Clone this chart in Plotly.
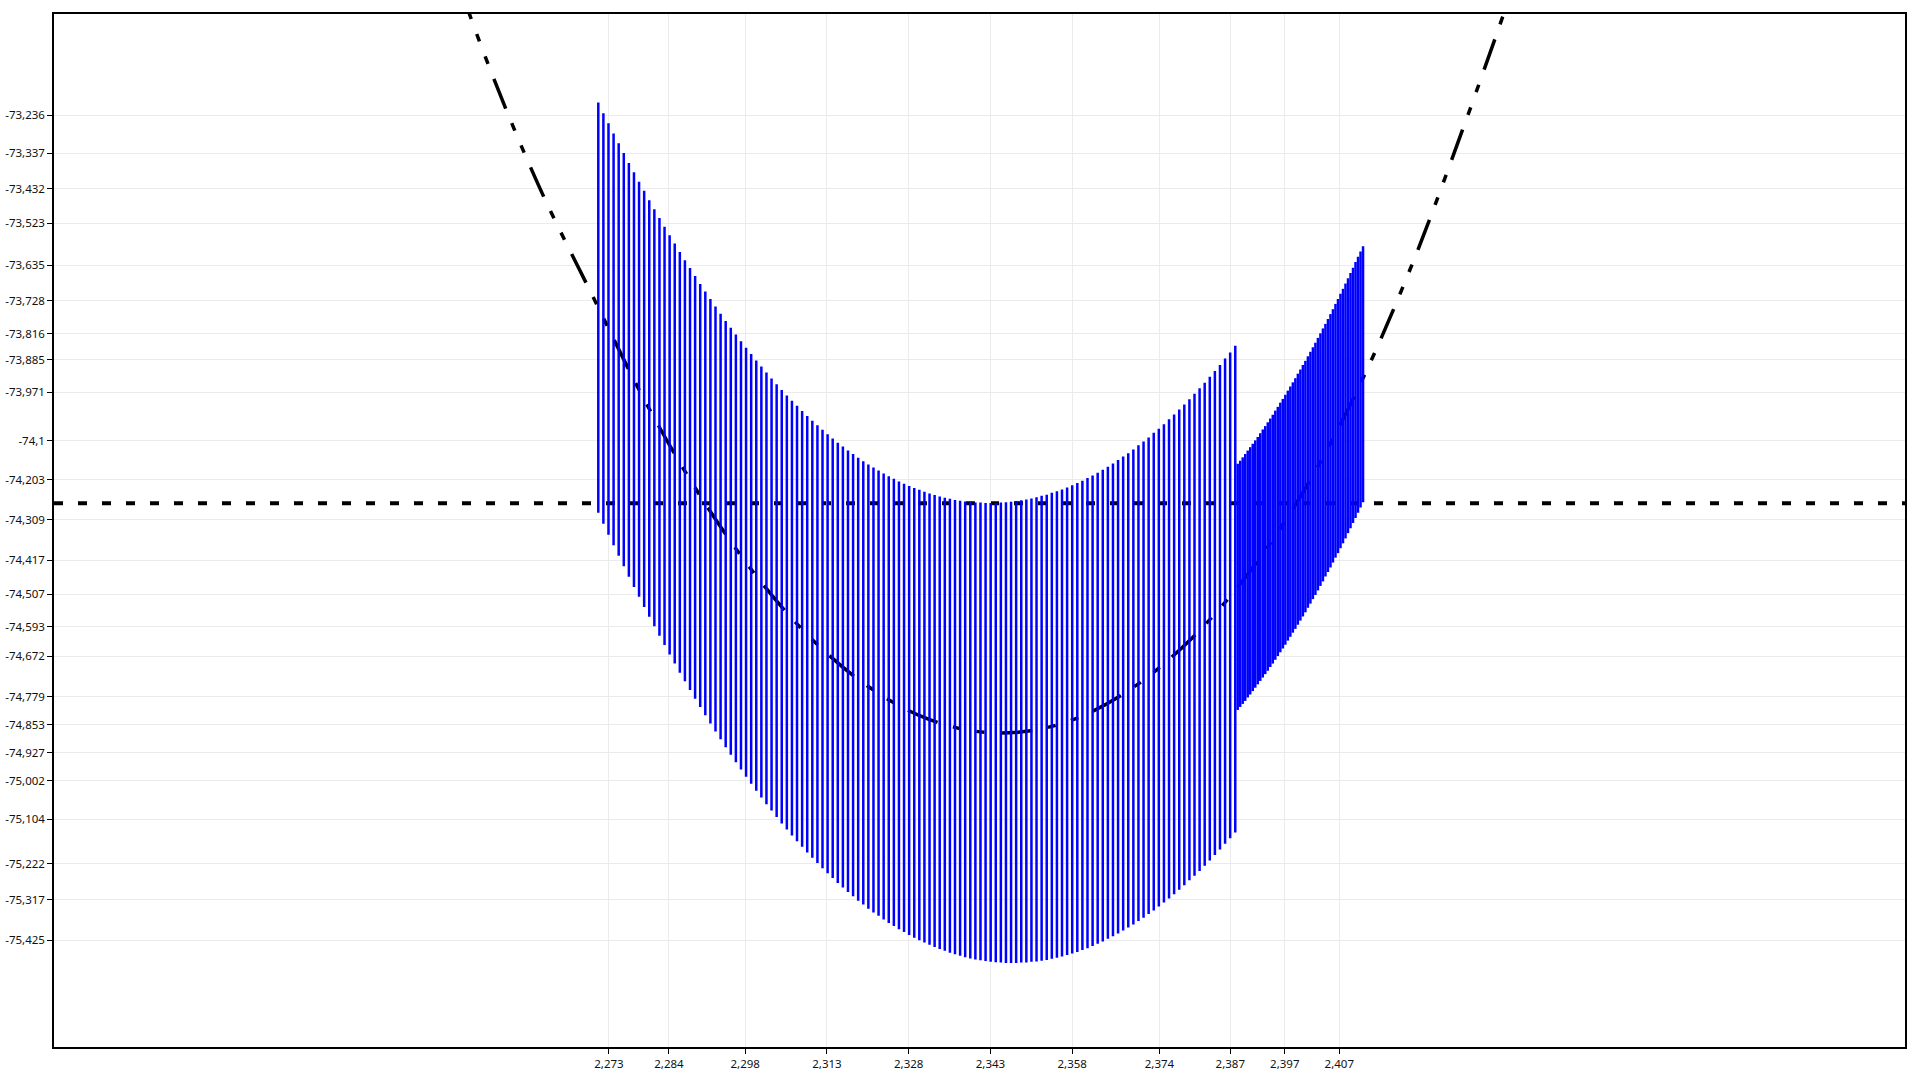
"""Range bars around a fitted curve, with a dotted reference level.

Two blocks of vertical blue bars (coarse step, then a finer step) sit on top
of a dash-dot black fitted curve; a dotted black horizontal line marks the
reference level. Tick labels use a comma as decimal separator.
"""

import plotly.graph_objects as go

# coarse block of bars
G1_X = [
    2.271040, 2.271975, 2.272910, 2.273845, 2.274780, 2.275715, 2.276650, 2.277585, 2.278520, 2.279455,
    2.280390, 2.281325, 2.282260, 2.283195, 2.284130, 2.285065, 2.286000, 2.286935, 2.287870, 2.288805,
    2.289740, 2.290675, 2.291610, 2.292545, 2.293480, 2.294415, 2.295350, 2.296285, 2.297220, 2.298155,
    2.299090, 2.300025, 2.300960, 2.301895, 2.302830, 2.303765, 2.304700, 2.305635, 2.306570, 2.307505,
    2.308440, 2.309375, 2.310310, 2.311245, 2.312180, 2.313115, 2.314050, 2.314985, 2.315920, 2.316855,
    2.317790, 2.318725, 2.319660, 2.320595, 2.321530, 2.322465, 2.323400, 2.324335, 2.325270, 2.326205,
    2.327140, 2.328075, 2.329010, 2.329945, 2.330880, 2.331815, 2.332750, 2.333685, 2.334620, 2.335555,
    2.336490, 2.337425, 2.338360, 2.339295, 2.340230, 2.341165, 2.342100, 2.343035, 2.343970, 2.344905,
    2.345840, 2.346775, 2.347710, 2.348645, 2.349580, 2.350515, 2.351450, 2.352385, 2.353320, 2.354255,
    2.355190, 2.356125, 2.357060, 2.357995, 2.358930, 2.359865, 2.360800, 2.361735, 2.362670, 2.363605,
    2.364540, 2.365475, 2.366410, 2.367345, 2.368280, 2.369215, 2.370150, 2.371085, 2.372020, 2.372955,
    2.373890, 2.374825, 2.375760, 2.376695, 2.377630, 2.378565, 2.379500, 2.380435, 2.381370, 2.382305,
    2.383240, 2.384175, 2.385110, 2.386045, 2.386980, 2.387915,
]
G1_TOP = [
    -73.203, -73.231, -73.258, -73.285, -73.311, -73.337, -73.363, -73.388, -73.413, -73.437,
    -73.462, -73.486, -73.509, -73.532, -73.555, -73.577, -73.599, -73.621, -73.642, -73.663,
    -73.684, -73.704, -73.724, -73.744, -73.763, -73.782, -73.800, -73.818, -73.836, -73.853,
    -73.870, -73.887, -73.903, -73.919, -73.935, -73.950, -73.965, -73.980, -73.994, -74.007,
    -74.021, -74.034, -74.047, -74.059, -74.071, -74.083, -74.094, -74.105, -74.115, -74.126,
    -74.135, -74.145, -74.154, -74.163, -74.171, -74.179, -74.187, -74.194, -74.201, -74.208,
    -74.214, -74.220, -74.225, -74.230, -74.235, -74.240, -74.244, -74.248, -74.251, -74.254,
    -74.257, -74.259, -74.261, -74.262, -74.264, -74.264, -74.265, -74.265, -74.265, -74.264,
    -74.263, -74.262, -74.260, -74.258, -74.256, -74.253, -74.250, -74.246, -74.243, -74.238,
    -74.234, -74.229, -74.224, -74.218, -74.212, -74.206, -74.199, -74.192, -74.185, -74.177,
    -74.169, -74.160, -74.151, -74.142, -74.133, -74.123, -74.112, -74.102, -74.091, -74.079,
    -74.068, -74.056, -74.043, -74.030, -74.017, -74.004, -73.990, -73.975, -73.961, -73.946,
    -73.930, -73.915, -73.899, -73.882, -73.866, -73.848,
]
G1_BOTTOM = [
    -74.291, -74.320, -74.349, -74.377, -74.405, -74.433, -74.461, -74.488, -74.514, -74.541,
    -74.567, -74.592, -74.617, -74.642, -74.667, -74.691, -74.715, -74.738, -74.761, -74.784,
    -74.806, -74.828, -74.850, -74.871, -74.892, -74.913, -74.933, -74.953, -74.972, -74.991,
    -75.010, -75.028, -75.046, -75.064, -75.081, -75.098, -75.115, -75.131, -75.147, -75.162,
    -75.177, -75.192, -75.206, -75.220, -75.234, -75.247, -75.260, -75.273, -75.285, -75.297,
    -75.308, -75.320, -75.330, -75.341, -75.351, -75.360, -75.370, -75.379, -75.387, -75.396,
    -75.403, -75.411, -75.418, -75.425, -75.431, -75.437, -75.443, -75.448, -75.453, -75.458,
    -75.462, -75.466, -75.470, -75.473, -75.476, -75.478, -75.480, -75.482, -75.483, -75.484,
    -75.485, -75.485, -75.485, -75.484, -75.484, -75.482, -75.481, -75.479, -75.477, -75.474,
    -75.471, -75.468, -75.464, -75.460, -75.456, -75.451, -75.446, -75.440, -75.434, -75.428,
    -75.421, -75.414, -75.407, -75.399, -75.391, -75.383, -75.374, -75.365, -75.355, -75.346,
    -75.335, -75.325, -75.314, -75.303, -75.291, -75.279, -75.266, -75.254, -75.241, -75.227,
    -75.213, -75.199, -75.184, -75.169, -75.154, -75.139,
]

# fine block of bars
G2_X = [
    2.38836, 2.38882, 2.38928, 2.38974, 2.39020, 2.39066, 2.39112, 2.39158, 2.39204, 2.39250,
    2.39296, 2.39342, 2.39388, 2.39434, 2.39480, 2.39526, 2.39572, 2.39618, 2.39664, 2.39710,
    2.39756, 2.39802, 2.39848, 2.39894, 2.39940, 2.39986, 2.40032, 2.40078, 2.40124, 2.40170,
    2.40216, 2.40262, 2.40308, 2.40354, 2.40400, 2.40446, 2.40492, 2.40538, 2.40584, 2.40630,
    2.40676, 2.40722, 2.40768, 2.40814, 2.40860, 2.40906, 2.40952, 2.40998, 2.41044, 2.41090,
    2.41136,
]
G2_TOP = [
    -74.161, -74.153, -74.144, -74.135, -74.126, -74.117, -74.108, -74.099, -74.090, -74.080,
    -74.070, -74.061, -74.051, -74.041, -74.031, -74.020, -74.010, -73.999, -73.989, -73.978,
    -73.967, -73.956, -73.945, -73.934, -73.922, -73.911, -73.899, -73.888, -73.876, -73.864,
    -73.852, -73.840, -73.827, -73.815, -73.802, -73.790, -73.777, -73.764, -73.751, -73.737,
    -73.724, -73.710, -73.697, -73.683, -73.669, -73.655, -73.641, -73.626, -73.612, -73.598,
    -73.584,
]
G2_BOTTOM = [
    -74.814, -74.806, -74.798, -74.790, -74.781, -74.773, -74.764, -74.755, -74.746, -74.737,
    -74.728, -74.719, -74.710, -74.700, -74.691, -74.681, -74.671, -74.661, -74.651, -74.641,
    -74.630, -74.620, -74.609, -74.599, -74.588, -74.577, -74.566, -74.555, -74.543, -74.532,
    -74.520, -74.509, -74.497, -74.485, -74.473, -74.460, -74.448, -74.436, -74.423, -74.410,
    -74.398, -74.385, -74.372, -74.359, -74.345, -74.332, -74.318, -74.305, -74.291, -74.277,
    -74.263,
]

# fitted curve (dash-dot)
FIT_X = [
    2.240, 2.250, 2.260, 2.270, 2.280, 2.290, 2.300, 2.310, 2.320, 2.330, 2.340,
    2.350, 2.360, 2.370, 2.380, 2.390, 2.400, 2.410, 2.420, 2.430, 2.440,
]
FIT_Y = [
    -72.660, -73.070, -73.420, -73.716, -74.005, -74.252, -74.458, -74.623, -74.746, -74.829, -74.870,
    -74.870, -74.829, -74.746, -74.623, -74.458, -74.245, -73.975, -73.645, -73.260, -72.850,
]

REFERENCE_LEVEL = -74.266

X_TICKS = [2.273, 2.284, 2.298, 2.313, 2.328, 2.343, 2.358, 2.374, 2.387, 2.397, 2.407]
X_TICK_TEXT = ["2,273", "2,284", "2,298", "2,313", "2,328", "2,343", "2,358", "2,374", "2,387", "2,397", "2,407"]
Y_TICKS = [
    -73.236, -73.337, -73.432, -73.523, -73.635, -73.728, -73.816, -73.885, -73.971, -74.1,
    -74.203, -74.309, -74.417, -74.507, -74.593, -74.672, -74.779, -74.853, -74.927, -75.002,
    -75.104, -75.222, -75.317, -75.425,
]
Y_TICK_TEXT = [
    "-73,236", "-73,337", "-73,432", "-73,523", "-73,635", "-73,728", "-73,816", "-73,885", "-73,971", "-74,1",
    "-74,203", "-74,309", "-74,417", "-74,507", "-74,593", "-74,672", "-74,779", "-74,853", "-74,927", "-75,002",
    "-75,104", "-75,222", "-75,317", "-75,425",
]

X_RANGE = [2.17117, 2.51080]
Y_RANGE = [-75.708, -72.968]

_BAR_COLOR = "#0000ff"
_GRID_COLOR = "#ebebeb"
_FONT = "Segoe UI, Noto Sans, sans-serif"


def _bar_segments(xs, lows, highs):
    """One polyline with None breaks: a vertical segment per bar."""
    seg_x, seg_y = [], []
    for x, lo, hi in zip(xs, lows, highs):
        seg_x.extend([x, x, None])
        seg_y.extend([lo, hi, None])
    return seg_x, seg_y


fig = go.Figure()

fig.add_hline(
    y=REFERENCE_LEVEL,
    line={"color": "black", "width": 4, "dash": "9px,15px"},
    layer="below",
)

fig.add_trace(
    go.Scatter(
        x=FIT_X,
        y=FIT_Y,
        mode="lines",
        line={"color": "black", "width": 3.5, "shape": "spline",
              "dash": "32px,16px,8px,16px,8px,16px"},
        hoverinfo="skip",
    )
)

for xs, lows, highs in ((G1_X, G1_BOTTOM, G1_TOP), (G2_X, G2_BOTTOM, G2_TOP)):
    sx, sy = _bar_segments(xs, lows, highs)
    fig.add_trace(
        go.Scatter(
            x=sx,
            y=sy,
            mode="lines",
            line={"color": _BAR_COLOR, "width": 2.5},
            hoverinfo="skip",
        )
    )

axis_common = dict(
    automargin=False,
    showline=True,
    mirror=True,
    linecolor="black",
    linewidth=1.5,
    showgrid=True,
    gridcolor=_GRID_COLOR,
    gridwidth=1,
    zeroline=False,
    ticks="outside",
    ticklen=5,
    tickwidth=1,
    tickcolor="black",
    tickfont={"family": _FONT, "size": 11.5, "color": "#111111"},
)

fig.update_layout(
    width=1920,
    height=1080,
    showlegend=False,
    plot_bgcolor="white",
    paper_bgcolor="white",
    margin={"l": 54, "r": 15, "t": 14, "b": 33, "autoexpand": False},
    xaxis=dict(axis_common, range=X_RANGE, tickmode="array",
               tickvals=X_TICKS, ticktext=X_TICK_TEXT),
    yaxis=dict(axis_common, range=Y_RANGE, tickmode="array",
               tickvals=Y_TICKS, ticktext=Y_TICK_TEXT),
)

# drop the page's default body margin so the figure fills the window exactly
fig.write_html(
    "out.html",
    config={"displayModeBar": False},
    post_script="document.body.style.margin = '0';",
)
